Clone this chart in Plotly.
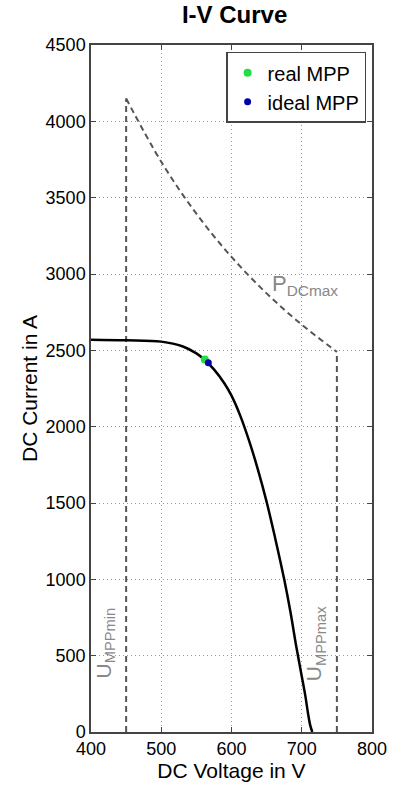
import plotly.graph_objects as go

# I-V curve
iv_voltage = [400, 450, 500, 530, 550, 562, 575, 590, 600, 612, 625, 637, 650, 662, 675, 684, 692, 699, 705, 709, 712, 715]
iv_current = [2570, 2566, 2557, 2527, 2480, 2437, 2375, 2283, 2203, 2077, 1908, 1728, 1507, 1273, 1000, 784, 565, 390, 240, 120, 45, 0]

# P_DCmax boundary (dashed)
p_voltage = [450, 500, 550, 600, 650, 700, 750]
p_current = [4150, 3735, 3395, 3112, 2873, 2668, 2490]

# U_MPPmin / U_MPPmax limits
umin_voltage = [450, 450]
umin_current = [0, 4150]
umax_voltage = [750, 750]
umax_current = [0, 2490]

real_mpp = ([562], [2440])
ideal_mpp = ([567], [2418])

x_ticks = [400, 500, 600, 700, 800]
y_ticks = [0, 500, 1000, 1500, 2000, 2500, 3000, 3500, 4000, 4500]

FONT = "Liberation Sans, Arial, sans-serif"
dash_style = dict(color="#555555", width=2, dash="6px,4px")

fig = go.Figure()
fig.add_trace(go.Scatter(x=umin_voltage, y=umin_current, mode="lines", line=dash_style, showlegend=False))
fig.add_trace(go.Scatter(x=umax_voltage, y=umax_current, mode="lines", line=dash_style, showlegend=False))
fig.add_trace(go.Scatter(x=p_voltage, y=p_current, mode="lines", line=dict(dash_style, shape="spline"), showlegend=False))
fig.add_trace(go.Scatter(x=iv_voltage, y=iv_current, mode="lines",
                         line=dict(color="black", width=2.5, shape="spline", smoothing=1.0), showlegend=False))
fig.add_trace(go.Scatter(x=real_mpp[0], y=real_mpp[1], mode="markers", name="real MPP",
                         marker=dict(color="#22dd44", size=8)))
fig.add_trace(go.Scatter(x=ideal_mpp[0], y=ideal_mpp[1], mode="markers", name="ideal MPP",
                         marker=dict(color="#0000aa", size=7)))

fig.add_annotation(x=655, y=2930, text="P<sub>DCmax</sub>", showarrow=False, xanchor="left",
                   font=dict(family=FONT, size=22, color="#888888"))
fig.add_annotation(x=420, y=580, text="U<sub>MPPmin</sub>", showarrow=False, textangle=-90,
                   font=dict(family=FONT, size=21, color="#888888"))
fig.add_annotation(x=720, y=580, text="U<sub>MPPmax</sub>", showarrow=False, textangle=-90,
                   font=dict(family=FONT, size=21, color="#888888"))

axis_common = dict(showline=True, linecolor="#444444", linewidth=1.5, mirror="ticks",
                   ticks="inside", ticklen=5, tickcolor="#444444",
                   showgrid=True, gridcolor="#999999", griddash="1px,3px", gridwidth=1,
                   zeroline=False, tickfont=dict(family=FONT, size=18, color="black"))

fig.update_layout(
    width=399, height=790,
    margin=dict(l=91, r=21, t=45, b=55),
    paper_bgcolor="white", plot_bgcolor="white",
    title=dict(text="<b>I-V Curve</b>", x=0.588, xanchor="center", y=0.982, yanchor="middle",
               font=dict(family=FONT, size=24, color="black")),
    xaxis=dict(axis_common, range=[400, 800], tickvals=x_ticks,
               title=dict(text="DC Voltage in V", standoff=4, font=dict(family=FONT, size=21, color="black"))),
    yaxis=dict(axis_common, range=[0, 4500], tickvals=y_ticks,
               title=dict(text="DC Current in A", standoff=2, font=dict(family=FONT, size=21, color="black"))),
    legend=dict(x=0.979, y=0.99, xanchor="right", yanchor="top", bgcolor="white",
                bordercolor="#444444", borderwidth=1.5, font=dict(family=FONT, size=20, color="black"),
                itemwidth=30),
)

fig.write_html("out.html")
